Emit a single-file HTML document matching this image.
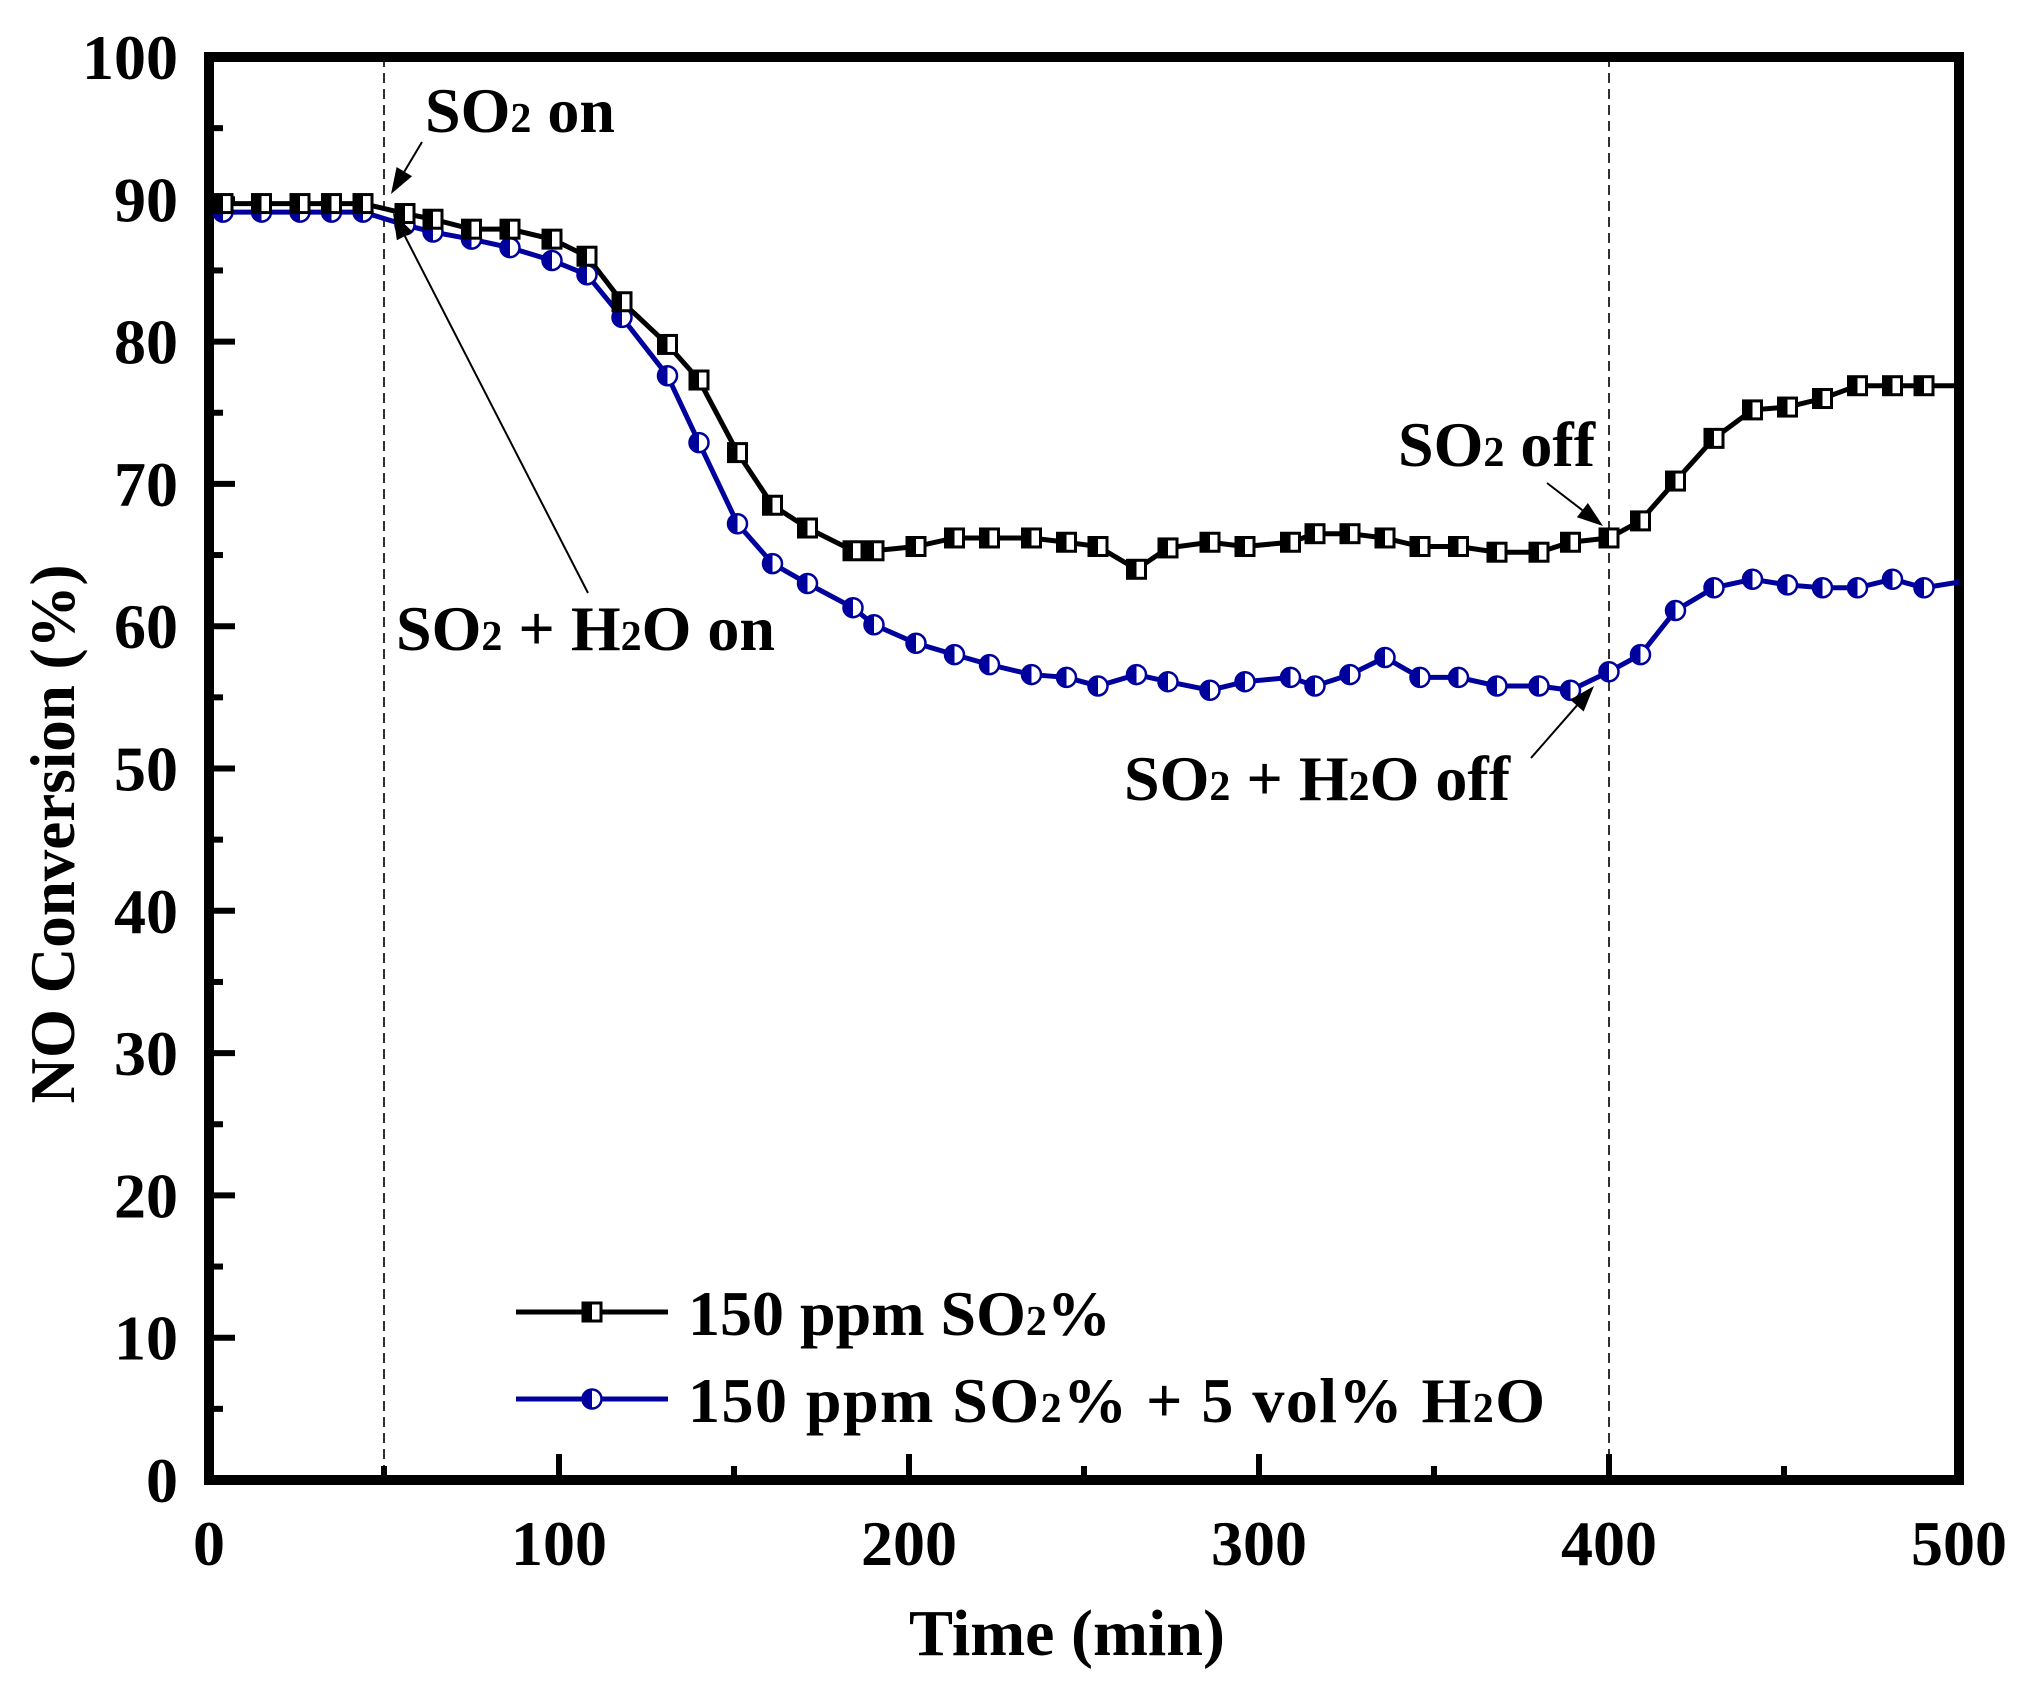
<!DOCTYPE html>
<html><head><meta charset="utf-8"><style>
html,body{margin:0;padding:0;background:#fff}
svg{display:block}
text{font-family:"Liberation Serif",serif;font-weight:bold;fill:#000}
</style></head><body>
<svg id="s" width="2021" height="1682" viewBox="0 0 2021 1682" xmlns="http://www.w3.org/2000/svg">
<g id="g"></g>
</svg>
<script>
const L=209,R=1959,T=57,B=1480;
const X=t=>L+t*(R-L)/500, Y=v=>B-v*(B-T)/100;
let h='';
[50,400].forEach(t=>{h+=`<line x1="${X(t)}" y1="${T}" x2="${X(t)}" y2="${B}" stroke="#000" stroke-width="1.6" stroke-dasharray="10,6"/>`;});
for(let v=0;v<=100;v+=5){const maj=v%10==0;h+=`<line x1="${L}" x2="${L+(maj?26:14)}" y1="${Y(v)}" y2="${Y(v)}" stroke="#000" stroke-width="6"/>`;
if(maj)h+=`<text x="178" y="${Y(v)+22}" font-size="64" text-anchor="end">${v}</text>`;}
for(let t=0;t<=500;t+=50){const maj=t%100==0;h+=`<line y1="${B}" y2="${B-(maj?26:14)}" x1="${X(t)}" x2="${X(t)}" stroke="#000" stroke-width="6"/>`;
if(maj)h+=`<text x="${X(t)}" y="1565" font-size="64" text-anchor="middle">${t}</text>`;}
h+=`<rect x="${L}" y="${T}" width="${R-L}" height="${B-T}" fill="none" stroke="#000" stroke-width="10"/>`;
const tx=[4,15,26,35,44,56,64,75,86,98,108,118,131,140,151,161,171,184,190,202,213,223,235,245,254,265,274,286,296,309,316,326,336,346,357,368,380,389,400,409,419,430,441,451,461,471,481,490];
const bk=[89.7,89.7,89.7,89.7,89.7,89,88.6,87.9,87.9,87.2,86,82.8,79.8,77.3,72.2,68.5,66.9,65.3,65.3,65.6,66.2,66.2,66.2,65.9,65.6,64,65.5,65.9,65.6,65.9,66.5,66.5,66.2,65.6,65.6,65.2,65.2,65.9,66.2,67.4,70.2,73.2,75.2,75.4,76,76.9,76.9,76.9];
const bl=[89.1,89.1,89.1,89.1,89.1,88.2,87.7,87.2,86.6,85.7,84.7,81.7,77.6,72.9,67.2,64.4,63,61.3,60.1,58.8,58,57.3,56.6,56.4,55.8,56.6,56.1,55.5,56.1,56.4,55.8,56.6,57.8,56.4,56.4,55.8,55.8,55.5,56.8,58,61.1,62.7,63.3,62.9,62.7,62.7,63.3,62.7];
function line(ys,end,col){let p=tx.map((t,i)=>X(t)+','+Y(ys[i])).join(' ');p+=' '+X(500)+','+Y(end);return `<polyline points="${p}" fill="none" stroke="${col}" stroke-width="5"/>`;}
function sq(x,y){return `<rect x="${x-9}" y="${y-9}" width="18" height="18" fill="#fff" stroke="#000" stroke-width="3"/><rect x="${x-9}" y="${y-9}" width="9" height="18" fill="#000"/>`;}
function ci(x,y){return `<circle cx="${x}" cy="${y}" r="9.5" fill="#fff" stroke="#00009c" stroke-width="2.5"/><path d="M${x},${y-9.5} A9.5,9.5 0 0,0 ${x},${y+9.5} Z" fill="#00009c"/>`;}
h+=line(bl,63.1,'#00009c');h+=line(bk,76.9,'#000');
tx.forEach((t,i)=>{h+=ci(X(t),Y(bl[i]));});
tx.forEach((t,i)=>{h+=sq(X(t),Y(bk[i]));});
function arr(x1,y1,x2,y2,w){const a=Math.atan2(y2-y1,x2-x1),l=26,s=9;const bx=x2-l*Math.cos(a),by=y2-l*Math.sin(a);
const px=-Math.sin(a)*s,py=Math.cos(a)*s;
return `<line x1="${x1}" y1="${y1}" x2="${bx}" y2="${by}" stroke="#000" stroke-width="${w}"/><polygon points="${x2},${y2} ${bx+px},${by+py} ${bx-px},${by-py}" fill="#000"/>`;}
h+=arr(422,142,391,194,2);h+=arr(588,593,393,213,2);h+=arr(1547,483,1603,526,2);h+=arr(1531,758,1594,686,2);
const sub=s=>`<tspan font-size="42">${s}</tspan>`;
h+=`<text x="425" y="132" font-size="64">SO${sub(2)} on</text>`;
h+=`<text x="396" y="650" font-size="64">SO${sub(2)} + H${sub(2)}O on</text>`;
h+=`<text x="1398" y="466" font-size="64">SO${sub(2)} off</text>`;
h+=`<text x="1124" y="800" font-size="64">SO${sub(2)} + H${sub(2)}O off</text>`;
h+=`<line x1="516" x2="668" y1="1312" y2="1312" stroke="#000" stroke-width="5"/>`+sq(592,1312);
h+=`<line x1="516" x2="668" y1="1399" y2="1399" stroke="#00009c" stroke-width="5"/>`+ci(592,1399);
h+=`<text x="688" y="1335" font-size="64">150 ppm SO${sub(2)}%</text>`;
h+=`<text x="688" y="1422" font-size="64" textLength="857">150 ppm SO${sub(2)}% + 5 vol% H${sub(2)}O</text>`;
h+=`<text x="1067" y="1655" font-size="66" text-anchor="middle">Time (min)</text>`;
h+=`<text transform="translate(74,834) rotate(-90)" font-size="63" text-anchor="middle">NO Conversion (%)</text>`;
document.getElementById('g').innerHTML=h;
</script>
</body></html>
